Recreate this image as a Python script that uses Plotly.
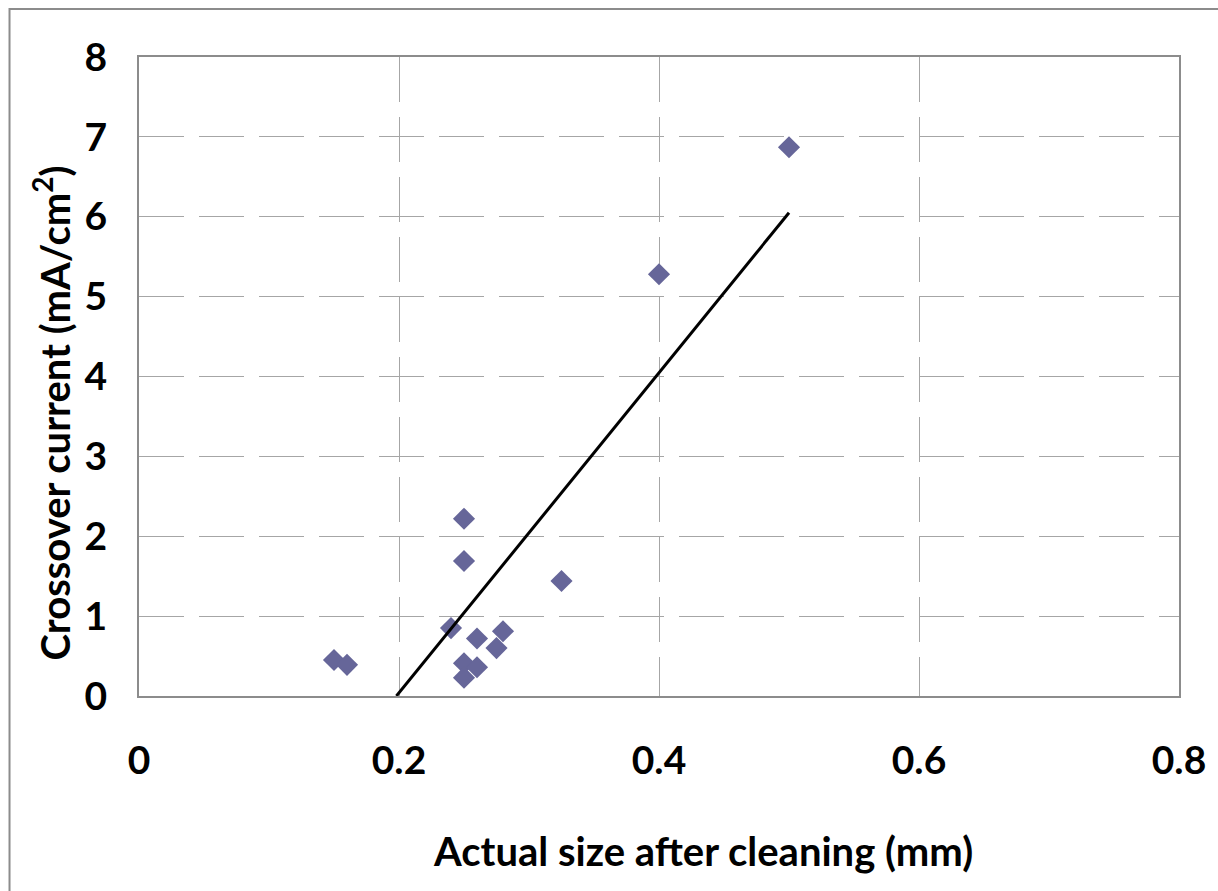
import plotly.graph_objects as go

size_mm = [0.15, 0.16, 0.24, 0.25, 0.25, 0.25, 0.25, 0.26, 0.26, 0.275, 0.28, 0.325, 0.40, 0.50]
current = [0.45, 0.39, 0.85, 2.22, 1.69, 0.41, 0.23, 0.72, 0.36, 0.60, 0.81, 1.44, 5.28, 6.87]

trend_x = [0.198, 0.50]
trend_y = [0.0, 6.05]

x_ticks = [0, 0.2, 0.4, 0.6, 0.8]
x_tick_labels = ["0", "0.2", "0.4", "0.6", "0.8"]
y_ticks = [0, 1, 2, 3, 4, 5, 6, 7, 8]

x_title = "Actual size after cleaning (mm)"
y_title = "Crossover current (mA/cm<sup>2</sup>)"

FONT = "Lato"
FS = 39
tfont = dict(family=FONT, size=FS, color="black", weight="bold")
title_font = dict(family=FONT, size=40, color="black", weight="bold")

fig = go.Figure()
fig.add_trace(go.Scatter(
    x=size_mm, y=current, mode="markers",
    marker=dict(symbol="diamond", size=17, color="#666699"),
    showlegend=False, cliponaxis=False,
))
fig.add_trace(go.Scatter(
    x=trend_x, y=trend_y, mode="lines",
    line=dict(color="black", width=3),
    showlegend=False,
))

grid = dict(showgrid=True, gridcolor="#a6a6a6", gridwidth=1, griddash="45px,15px")

fig.update_xaxes(
    range=[0, 0.8], tickvals=x_ticks, ticktext=x_tick_labels,
    showline=True, linecolor="#8c8c8c", linewidth=2, mirror=True,
    zeroline=False, ticks="", ticklabelstandoff=29,
    tickfont=tfont, **grid,
)
fig.update_yaxes(
    range=[0, 8], tickvals=y_ticks,
    showline=True, linecolor="#8c8c8c", linewidth=2, mirror=True,
    zeroline=False, ticks="", ticklabelstandoff=22,
    tickfont=tfont, **grid,
)

fig.add_annotation(text=x_title, xref="paper", yref="paper",
                   x=0.542, y=-0.243, xanchor="center", yanchor="middle",
                   showarrow=False, font=title_font)
fig.add_annotation(text=y_title, xref="paper", yref="paper",
                   x=-0.084, y=0.443, xanchor="center", yanchor="middle",
                   textangle=-90, showarrow=False, font=title_font)

# outer chart border
fig.add_shape(type="rect", xref="paper", yref="paper",
              x0=-0.1245, x1=1.05, y0=-0.33, y1=1.075,
              line=dict(color="#8c8c8c", width=2), layer="below")

fig.update_layout(
    width=1218, height=891,
    margin=dict(l=139, r=35, t=57, b=195),
    paper_bgcolor="white", plot_bgcolor="white",
)

fig.write_html("out.html")
